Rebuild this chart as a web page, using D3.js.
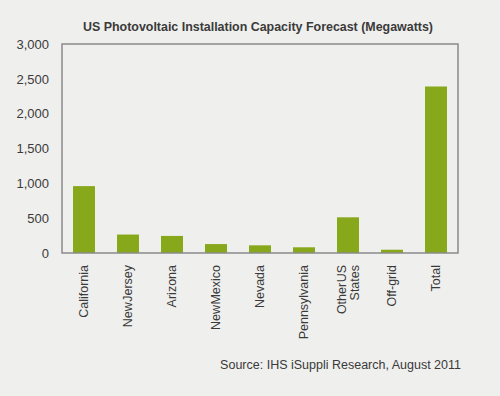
<!DOCTYPE html>
<html>
<head>
<meta charset="utf-8">
<script src="https://cdn.jsdelivr.net/npm/d3@7"></script>
<style>
  body { margin: 0; background: #efefed; }
  text { font-family: "Liberation Sans", Arial, sans-serif; fill: #3a3a3a; }
</style>
</head>
<body>
<svg id="chart" width="500" height="396"></svg>
<script>
// values (megawatts)
var states = ['California', 'New Jersey', 'Arizona', 'New Mexico', 'Nevada', 'Pennsylvania', 'Other US|States', 'Off-grid', 'Total']
var capacity = [960, 265, 245, 128, 110, 82, 512, 47, 2390]
var yTicks = [0, 500, 1000, 1500, 2000, 2500, 3000]

var svg = d3.select('#chart'),
    plotL = 62, plotR = 458, plotT = 44, plotB = 253

svg.append('rect')
    .attr('width', 500).attr('height', 396)
    .attr('fill', '#efefed')

var x = d3.scaleBand()
    .domain(states)
    .range([plotL, plotR])
    .paddingInner(0.5)
    .paddingOuter(0.25)

var y = d3.scaleLinear()
    .domain([0, 3000])
    .range([plotB, plotT])

// bars
svg.selectAll('rect.bar')
    .data(states)
    .enter().append('rect')
    .attr('class', 'bar')
    .attr('x', (d) => x(d))
    .attr('width', x.bandwidth())
    .attr('y', (d, i) => y(capacity[i]))
    .attr('height', (d, i) => plotB - y(capacity[i]))
    .attr('fill', '#87a81a')

// frame
svg.append('rect')
    .attr('x', plotL).attr('y', plotT)
    .attr('width', plotR - plotL).attr('height', plotB - plotT)
    .attr('fill', 'none')
    .attr('stroke', '#8a8a8a')
    .attr('stroke-width', 1.5)

// y axis labels
var yAxis = svg.append('g')
    .attr('transform', 'translate(' + plotL + ',0)')
    .call(d3.axisLeft(y).tickValues(yTicks).tickSize(0).tickPadding(13)
        .tickFormat(d3.format(',')))
yAxis.select('.domain').remove()
yAxis.selectAll('text')
    .attr('font-size', 13)
    .style('font-family', '"Liberation Sans", Arial, sans-serif')
    .attr('fill', '#3a3a3a')

// x labels, rotated
var xl = svg.selectAll('text.xlab')
    .data(states)
    .enter().append('text')
    .attr('class', 'xlab')
    .attr('transform', (d) => 'translate(' + (x(d) + x.bandwidth() / 2) + ',265) rotate(-90)')
    .attr('text-anchor', 'end')
    .attr('font-size', 12.5)
    .style('word-spacing', '-3px')

xl.each(function(d) {
    var lines = d.split('|'),
        el = d3.select(this)
    lines.forEach(function(s, j) {
        el.append('tspan')
            .attr('x', 0)
            .attr('dy', j == 0 ? (0.35 - (lines.length - 1) * 0.5) + 'em' : '1em')
            .text(s)
    })
})

// title
svg.append('text')
    .attr('x', 258).attr('y', 31)
    .attr('text-anchor', 'middle')
    .attr('font-size', 13)
    .attr('font-weight', 'bold')
    .attr('textLength', 350)
    .attr('lengthAdjust', 'spacingAndGlyphs')
    .attr('fill', '#222')
    .text('US Photovoltaic Installation Capacity Forecast (Megawatts)')

// source note
svg.append('text')
    .attr('x', 461).attr('y', 369)
    .attr('text-anchor', 'end')
    .attr('font-size', 12.5)
    .attr('fill', '#333')
    .text('Source: IHS iSuppli Research, August 2011')
</script>
</body>
</html>
